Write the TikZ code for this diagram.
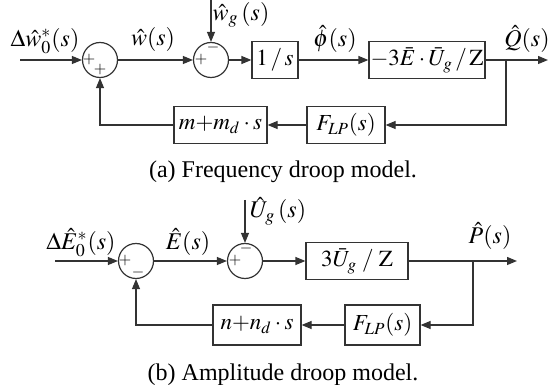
\documentclass[tikz,border=0pt]{standalone}
\usepackage{mathptmx}
\usepackage{fontspec}
\setmainfont{Liberation Serif}
\usetikzlibrary{arrows.meta}

\begin{document}
\begin{tikzpicture}[x=0.5pt, y=-0.5pt, line width=0.6pt,
    >={Triangle[length=5pt, width=4pt]},
    sumnode/.style={circle, draw=black!80, minimum size=17.5pt, inner sep=0pt},
    blockbox/.style={draw=black!80, rectangle, inner sep=0pt, minimum height=18.5pt,
      font=\fontsize{11.5}{13}\selectfont},
    lbl/.style={inner sep=0pt, font=\fontsize{12}{14}\selectfont},
    sgn/.style={inner sep=0pt, font=\fontsize{8}{9}\selectfont},
    captext/.style={inner sep=0pt, font=\fontsize{12}{14}\selectfont},
    wire/.style={draw=black!80, ->}]
        \useasboundingbox (0,0) rectangle (553,385);

        % (a) frequency droop
        \coordinate (a-in) at (20,60);
        \coordinate (a-wg) at (211,0);
        \coordinate (a-br) at (506,60);
        \coordinate (a-out) at (548,60);

        \node[sumnode] (a-s1) at (100,60) {};
        \node[sumnode] (a-s2) at (211,60) {};
        \node[sgn, xshift=-5.5pt] (a-p1) at (a-s1) {$+$};
        \node[sgn, yshift=-5pt] (a-p2) at (a-s1) {$+$};
        \node[sgn, xshift=-5pt] (a-p3) at (a-s2) {$+$};
        \node[sgn, yshift=6pt, xshift=1pt] (a-m2) at (a-s2) {$-$};

        \node[blockbox, minimum width=23pt] (a-int) at (275,60) {$1\,/\,s$};
        \node[blockbox, minimum width=58pt] (a-gain) at (427,60) {$-3\bar{E}\cdot\bar{U}_g\,/\,\mathrm{Z}$};
        \node[blockbox, minimum width=39pt] (a-lp) at (346,125) {$F_{LP}(s)$};
        \node[blockbox, minimum width=46.5pt] (a-m) at (220.5,125) {$m{+}m_d\cdot s$};

        \node[lbl] (a-l0) at (45,41) {$\Delta\hat{w}_0^*(s)$};
        \node[lbl] (a-l1) at (153,40) {$\hat{w}(s)$};
        \node[lbl] (a-l2) at (241,15) {$\hat{w}_g\,(s)$};
        \node[lbl] (a-l3) at (335,39) {$\hat{\phi}(s)$};
        \node[lbl] (a-l4) at (527,39) {$\hat{Q}(s)$};

        \draw[wire] (a-in) -- (a-s1);
        \draw[wire] (a-s1) -- (a-s2);
        \draw[wire] (a-wg) -- (a-s2);
        \draw[wire] (a-s2) -- (a-int);
        \draw[wire] (a-int) -- (a-gain);
        \draw[wire] (a-gain) -- (a-out);
        \draw[wire] (a-br) |- (a-lp);
        \draw[wire] (a-lp) -- (a-m);
        \draw[wire] (a-m) -| (a-s1);

        \node[captext] (a-cap) at (283,172) {(a) Frequency droop model.};

        % (b) amplitude droop
        \coordinate (b-in) at (55,261);
        \coordinate (b-ug) at (245,200);
        \coordinate (b-br) at (473,261);
        \coordinate (b-out) at (517,261);

        \node[sumnode] (b-s1) at (136,261) {};
        \node[sgn, xshift=-5.5pt] (b-p1) at (b-s1) {$+$};
        \node[sgn, yshift=-6pt, xshift=1pt] (b-m1) at (b-s1) {$-$};
        \node[sumnode] (b-s2) at (245,261) {};
        \node[sgn, xshift=-5pt] (b-p2) at (b-s2) {$+$};
        \node[sgn, yshift=6pt, xshift=0.5pt] (b-m2) at (b-s2) {$-$};

        \node[blockbox, minimum width=51pt] (b-gain) at (357,261) {$3\bar{U}_g\;/\;\mathrm{Z}$};
        \node[blockbox, minimum width=37.5pt, minimum height=20pt] (b-lp) at (382.5,325) {$F_{LP}(s)$};
        \node[blockbox, minimum width=44pt, minimum height=20pt] (b-n) at (257,325) {$n{+}n_d\cdot s$};

        \node[lbl] (b-l0) at (81,243) {$\Delta\hat{E}_0^*(s)$};
        \node[lbl] (b-l1) at (188,242) {$\hat{E}(s)$};
        \node[lbl] (b-l2) at (278,211) {$\hat{U}_g\,(s)$};
        \node[lbl] (b-l3) at (490,236) {$\hat{P}(s)$};

        \draw[wire] (b-in) -- (b-s1);
        \draw[wire] (b-s1) -- (b-s2);
        \draw[wire] (b-ug) -- (b-s2);
        \draw[wire] (b-s2) -- (b-gain);
        \draw[wire] (b-gain) -- (b-out);
        \draw[wire] (b-br) |- (b-lp);
        \draw[wire] (b-lp) -- (b-n);
        \draw[wire] (b-n) -| (b-s1);

        \node[captext] (b-cap) at (283,375) {(b) Amplitude droop model.};
\end{tikzpicture}
\end{document}
